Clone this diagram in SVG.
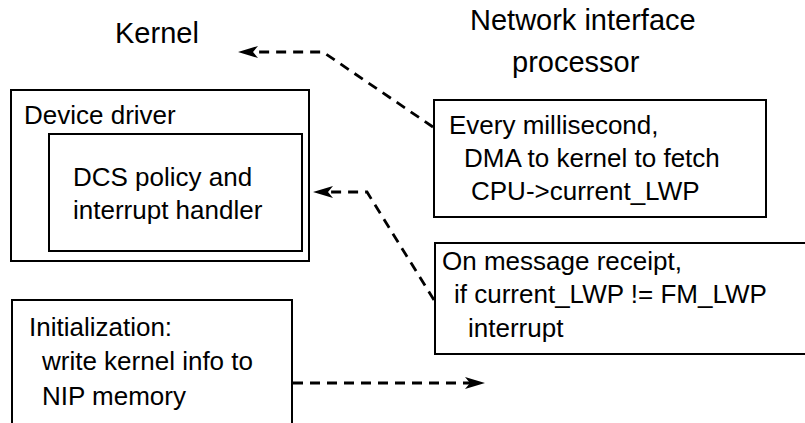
<svg xmlns="http://www.w3.org/2000/svg" width="805" height="423" viewBox="0 0 805 423">
<style>
text{font-family:"Liberation Sans",Arial,sans-serif;font-size:26px;fill:#000}
text.title{font-size:29px}
.box{fill:#fff;stroke:#000;stroke-width:2}
.dash{fill:none;stroke:#000;stroke-width:2.8;stroke-dasharray:10 7}
</style>
<defs>
<marker id="ah" markerUnits="userSpaceOnUse" viewBox="0 0 20 12" markerWidth="20" markerHeight="12" refX="5" refY="6" orient="auto">
<path d="M0,0 L20,6 L0,12 L5,6 Z" fill="#000"/>
</marker>
</defs>
<rect width="805" height="423" fill="#fff"/>
<g id="kernel-title"><text class="title" x="115" y="43">Kernel</text></g>
<g id="nip-title"><text class="title" x="470" y="30">Network interface</text><text class="title" x="512" y="72">processor</text></g>
<g id="device-driver">
<rect class="box" x="11" y="90" width="298" height="171"/>
<text x="24" y="124">Device driver</text>
</g>
<g id="dcs-policy">
<rect class="box" x="49" y="134" width="253" height="117"/>
<text x="73" y="186">DCS policy and</text>
<text x="73" y="219">interrupt handler</text>
</g>
<g id="every-ms">
<rect class="box" x="434" y="100" width="332" height="117"/>
<text x="449" y="134">Every millisecond,</text>
<text x="464" y="167">DMA to kernel to fetch</text>
<text x="471" y="200">CPU-&gt;current_LWP</text>
</g>
<g id="on-message">
<rect class="box" x="435" y="243" width="380" height="111"/>
<text x="442" y="270">On message receipt,</text>
<text x="454" y="303">if current_LWP != FM_LWP</text>
<text x="468" y="337">interrupt</text>
</g>
<g id="initialization">
<rect class="box" x="12" y="300" width="280" height="140"/>
<text x="29" y="336">Initialization:</text>
<text x="42" y="370">write kernel info to</text>
<text x="42" y="405">NIP memory</text>
</g>
<g id="connectors">
<polyline class="dash" points="433,127 323,52 253,52" marker-end="url(#ah)"/>
<polyline class="dash" points="434,300 367,192 328,192" marker-end="url(#ah)"/>
<polyline class="dash" points="293,383 470,383" marker-end="url(#ah)"/>
</g>
</svg>
